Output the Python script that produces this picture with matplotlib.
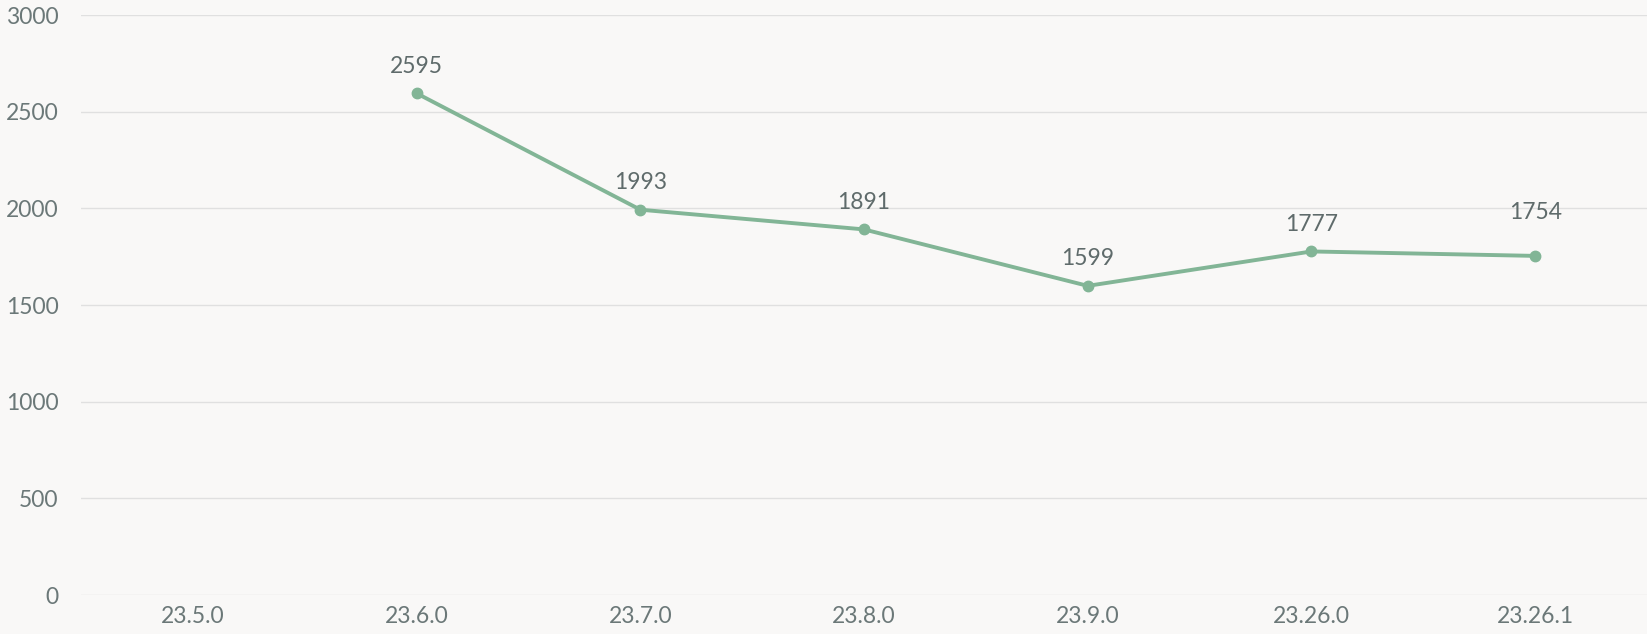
import matplotlib

matplotlib.use("Agg")
import matplotlib.pyplot as plt
import numpy as np

versions = ["23.5.0", "23.6.0", "23.7.0", "23.8.0", "23.9.0", "23.26.0", "23.26.1"]
values = [np.nan, 2595, 1993, 1891, 1599, 1777, 1754]
yticks = [0, 500, 1000, 1500, 2000, 2500, 3000]

BG = "#f9f8f7"
LINE = "#82b596"
TEXT = "#6b7878"
GRID = "#e0e0e0"

plt.rcParams["font.family"] = ["Lato", "DejaVu Sans"]

W, H = 1647, 634
fig = plt.figure(figsize=(W / 100, H / 100), dpi=100, facecolor=BG)
ax = fig.add_axes([81 / W, 1 - 595 / H, (W - 81) / W, (595 - 15) / H])
ax.set_facecolor(BG)

x = np.arange(len(versions))
ax.plot(x, values, color=LINE, linewidth=2.8, marker="o", markersize=7.5, zorder=3)
for i, (xi, v) in enumerate(zip(x, values)):
    if np.isnan(v):
        continue
    # echarts pushed the last label up to dodge its neighbour
    dy = 24 if i == len(values) - 1 else 12
    ax.annotate(f"{int(v)}", (xi, v), xytext=(0, dy), textcoords="offset points",
                ha="center", va="bottom", fontsize=16.5, color="#5f6b6b")

ax.set_xlim(-0.5, len(versions) - 0.5)
ax.set_ylim(0, 3000)
ax.set_yticks(yticks)
ax.set_xticks(x)
ax.set_xticklabels(versions)
ax.grid(axis="y", color=GRID, linewidth=1)
ax.set_axisbelow(True)
for s in ax.spines.values():
    s.set_visible(False)
ax.tick_params(axis="both", length=0, labelsize=16.5, colors=TEXT)
ax.tick_params(axis="y", pad=16)
ax.tick_params(axis="x", pad=8)

fig.savefig("out.png", dpi=100, facecolor=BG)
